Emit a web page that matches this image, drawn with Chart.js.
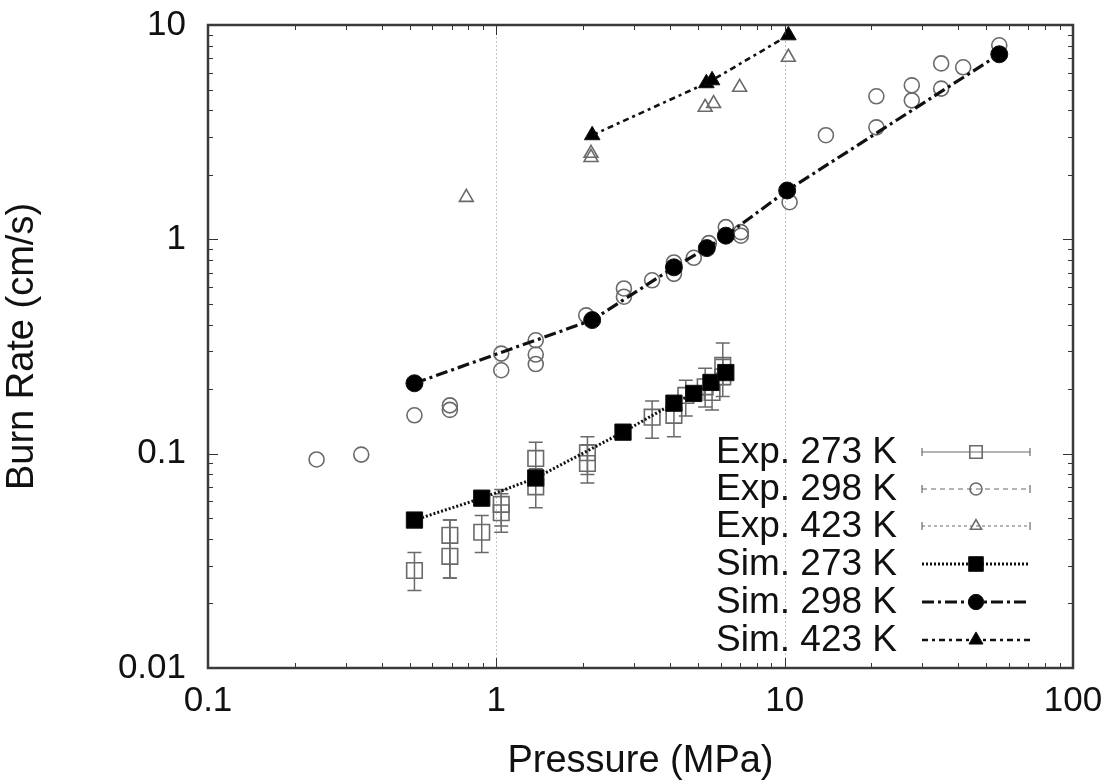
<!DOCTYPE html>
<html>
<head>
<meta charset="utf-8">
<script src="https://cdn.jsdelivr.net/npm/chart.js@4.4.1/dist/chart.umd.min.js"></script>
<style>
html,body{margin:0;padding:0;background:#fff;}
#c{display:block;}
</style>
</head>
<body>
<canvas id="c" width="1115" height="784"></canvas>
<script>
const pExp273=[0.52,0.69,0.69,0.89,1.04,1.04,1.37,1.37,2.07,2.07,3.47,4.13,4.54,5.3,5.6,6.1,6.1];
const rExp273=[0.0285,0.0416,0.0332,0.043,0.053,0.058,0.095,0.070,0.101,0.090,0.148,0.151,0.187,0.205,0.193,0.258,0.228];
const loExp273=[0.023,0.0263,0.0263,0.0346,0.043,0.046,0.075,0.056,0.080,0.073,0.118,0.120,0.150,0.165,0.160,0.210,0.185];
const hiExp273=[0.0346,0.049,0.049,0.0515,0.065,0.068,0.113,0.085,0.120,0.110,0.176,0.185,0.220,0.250,0.230,0.328,0.275];

const pExp298=[0.238,0.34,0.52,0.69,0.69,1.04,1.04,1.37,1.37,1.37,2.05,2.77,2.77,3.47,4.13,4.13,4.84,5.46,6.25,7.05,7.05,10.4,13.9,20.8,20.8,27.6,27.6,34.9,34.9,41.6,55.5];
const rExp298=[0.094,0.099,0.151,0.160,0.168,0.293,0.245,0.338,0.290,0.262,0.442,0.590,0.540,0.644,0.780,0.690,0.820,0.960,1.14,1.08,1.04,1.49,3.06,4.65,3.33,5.23,4.45,6.62,5.05,6.35,8.04];

const pExp423=[0.787,2.13,2.13,5.3,5.67,6.98,10.3];
const rExp423=[1.57,2.41,2.52,4.13,4.30,5.12,7.07];

const pSim273=[0.52,0.89,1.37,2.75,4.13,4.84,5.55,6.25];
const rSim273=[0.049,0.062,0.077,0.126,0.172,0.191,0.215,0.239];
const pSim298=[0.52,2.15,4.13,5.37,6.25,10.2,55.5];
const rSim298=[0.213,0.42,0.74,0.91,1.04,1.69,7.3];
const pSim423=[2.15,5.35,5.6,10.3];
const rSim423=[3.06,5.35,5.52,8.95];

const xTicks=[0.1,0.2,0.3,0.4,0.5,0.6,0.7,0.8,0.9,1,2,3,4,5,6,7,8,9,10,20,30,40,50,60,70,80,90,100];
const yTicks=[0.01,0.02,0.03,0.04,0.05,0.06,0.07,0.08,0.09,0.1,0.2,0.3,0.4,0.5,0.6,0.7,0.8,0.9,1,2,3,4,5,6,7,8,9,10];
const xGrid=[1,10];
const legendLabels=['Exp. 273 K','Exp. 298 K','Exp. 423 K','Sim. 273 K','Sim. 298 K','Sim. 423 K'];

const FONT='"Liberation Sans", Arial, Helvetica, sans-serif';
const pts=(xs,ys)=>xs.map((x,i)=>({x:x,y:ys[i]}));
const isMajor=v=>Math.abs(Math.log10(v)-Math.round(Math.log10(v)))<1e-9;
const GRAY='#6a6a6a';

const dsExp273={label:legendLabels[0],data:pts(pExp273,rExp273),pointStyle:'rect',pointRadius:11,borderColor:GRAY,backgroundColor:'rgba(0,0,0,0)',borderWidth:1.6,showLine:false,order:2,lineDash:[]};
const dsExp298={label:legendLabels[1],data:pts(pExp298,rExp298),pointStyle:'circle',pointRadius:7.5,borderColor:GRAY,backgroundColor:'rgba(0,0,0,0)',borderWidth:1.6,showLine:false,order:2,lineDash:[5,4]};
const dsExp423={label:legendLabels[2],data:pts(pExp423,rExp423),pointStyle:'triangle',pointRadius:8,borderColor:GRAY,backgroundColor:'rgba(0,0,0,0)',borderWidth:1.6,showLine:false,order:2,lineDash:[3,3]};
const dsSim273={label:legendLabels[3],data:pts(pSim273,rSim273),pointStyle:'rect',pointRadius:11.5,borderColor:'#111',backgroundColor:'#000',borderWidth:3,borderDash:[2,2],showLine:true,order:1,pointBorderWidth:1};
const dsSim298={label:legendLabels[4],data:pts(pSim298,rSim298),pointStyle:'circle',pointRadius:8.5,borderColor:'#111',backgroundColor:'#000',borderWidth:3.2,borderDash:[12,4,3,4],showLine:true,order:1,pointBorderWidth:1};
const dsSim423={label:legendLabels[5],data:pts(pSim423,rSim423),pointStyle:'triangle',pointRadius:9,borderColor:'#111',backgroundColor:'#000',borderWidth:2.6,borderDash:[6,4,3,4],showLine:true,order:1,pointBorderWidth:1};
const datasets=[dsSim273,dsSim298,dsSim423,dsExp273,dsExp298,dsExp423];

const framePlugin={id:'frame',
  beforeDatasetsDraw(chart){
    const ctx=chart.ctx,a=chart.chartArea,xs=chart.scales.x,ys=chart.scales.y;
    ctx.save();
    ctx.strokeStyle='#c4c4c4';ctx.lineWidth=1;ctx.setLineDash([2,2]);
    xGrid.forEach(v=>{const px=Math.round(xs.getPixelForValue(v))+0.5;ctx.beginPath();ctx.moveTo(px,a.top);ctx.lineTo(px,a.bottom);ctx.stroke();});
    ctx.setLineDash([]);
    // error bars for exp 273
    ctx.strokeStyle=GRAY;ctx.lineWidth=1.5;
    pExp273.forEach((p,i)=>{
      const px=xs.getPixelForValue(p),lo=ys.getPixelForValue(loExp273[i]),hi=ys.getPixelForValue(hiExp273[i]);
      ctx.beginPath();ctx.moveTo(px,lo);ctx.lineTo(px,hi);
      ctx.moveTo(px-7,lo);ctx.lineTo(px+7,lo);ctx.moveTo(px-7,hi);ctx.lineTo(px+7,hi);ctx.stroke();
    });
    ctx.restore();
  },
  afterDraw(chart){
    const ctx=chart.ctx,a=chart.chartArea,xs=chart.scales.x,ys=chart.scales.y;
    ctx.save();
    ctx.strokeStyle='#333';ctx.lineWidth=1;
    xTicks.forEach(v=>{const px=Math.round(xs.getPixelForValue(v))+0.5,L=isMajor(v)?10:5;
      ctx.beginPath();ctx.moveTo(px,a.bottom);ctx.lineTo(px,a.bottom-L);ctx.moveTo(px,a.top);ctx.lineTo(px,a.top+L);ctx.stroke();});
    yTicks.forEach(v=>{const py=Math.round(ys.getPixelForValue(v))+0.5,L=isMajor(v)?10:5;
      ctx.beginPath();ctx.moveTo(a.left,py);ctx.lineTo(a.left+L,py);ctx.moveTo(a.right,py);ctx.lineTo(a.right-L,py);ctx.stroke();});
    ctx.strokeStyle='#3a3a3a';ctx.lineWidth=2.5;
    ctx.strokeRect(a.left,a.top,a.right-a.left,a.bottom-a.top);
    // legend
    const rows=[452,489,526,564,602,640],x0=922,x1=1030,xm=976;
    const order=[dsExp273,dsExp298,dsExp423,dsSim273,dsSim298,dsSim423];
    ctx.font='37px '+FONT;ctx.textAlign='right';ctx.textBaseline='middle';
    order.forEach((d,i)=>{
      const y=rows[i];
      ctx.fillStyle='#111';ctx.fillText(d.label,897,y+1);
      ctx.strokeStyle=d.borderColor;
      if(i<3){ctx.lineWidth=1.2;ctx.setLineDash(d.lineDash);}else{ctx.lineWidth=d.borderWidth;ctx.setLineDash(d.borderDash);}
      ctx.beginPath();ctx.moveTo(x0,y);ctx.lineTo(x1,y);ctx.stroke();ctx.setLineDash([]);
      if(i<3){ctx.lineWidth=1.2;ctx.beginPath();ctx.moveTo(x0,y-4);ctx.lineTo(x0,y+4);ctx.moveTo(x1,y-4);ctx.lineTo(x1,y+4);ctx.stroke();}
      ctx.lineWidth=i<3?1.6:1;ctx.fillStyle=d.backgroundColor;
      Chart.helpers.drawPoint(ctx,{pointStyle:d.pointStyle,radius:i<3?d.pointRadius*0.8:d.pointRadius*0.9,borderWidth:ctx.lineWidth,rotation:0},xm,y);
    });
    ctx.restore();
  }
};

Chart.defaults.font.family=FONT;
Chart.defaults.color='#111';

new Chart(document.getElementById('c'),{
  type:'scatter',
  data:{datasets:datasets},
  options:{
    responsive:false,animation:false,
    layout:{padding:{top:25,right:42,left:0,bottom:0}},
    plugins:{legend:{display:false},tooltip:{enabled:false}},
    elements:{line:{tension:0}},
    scales:{
      x:{type:'logarithmic',min:0.1,max:100,
        afterBuildTicks:s=>{s.ticks=xTicks.map(v=>({value:v,major:isMajor(v)}));},
        afterFit:s=>{s.height=116;s.paddingLeft=0;s.paddingRight=0;},
        grid:{display:false,drawTicks:false},border:{display:false},
        ticks:{autoSkip:false,maxRotation:0,padding:12,font:{size:35},color:'#111',callback:v=>isMajor(v)?String(v):''},
        title:{display:true,text:'Pressure (MPa)',font:{size:38},color:'#111',padding:{top:14,bottom:0}}},
      y:{type:'logarithmic',min:0.01,max:10,
        afterBuildTicks:s=>{s.ticks=yTicks.map(v=>({value:v,major:isMajor(v)}));},
        afterFit:s=>{s.width=208;s.paddingTop=0;s.paddingBottom=0;},
        grid:{display:false,drawTicks:false},border:{display:false},
        ticks:{autoSkip:false,padding:22,font:{size:35},color:'#111',callback:v=>isMajor(v)?String(v):''},
        title:{display:true,text:'Burn Rate (cm/s)',font:{size:38},color:'#111',padding:{top:0,bottom:10}}}
    }
  },
  plugins:[framePlugin]
});
</script>
</body>
</html>
